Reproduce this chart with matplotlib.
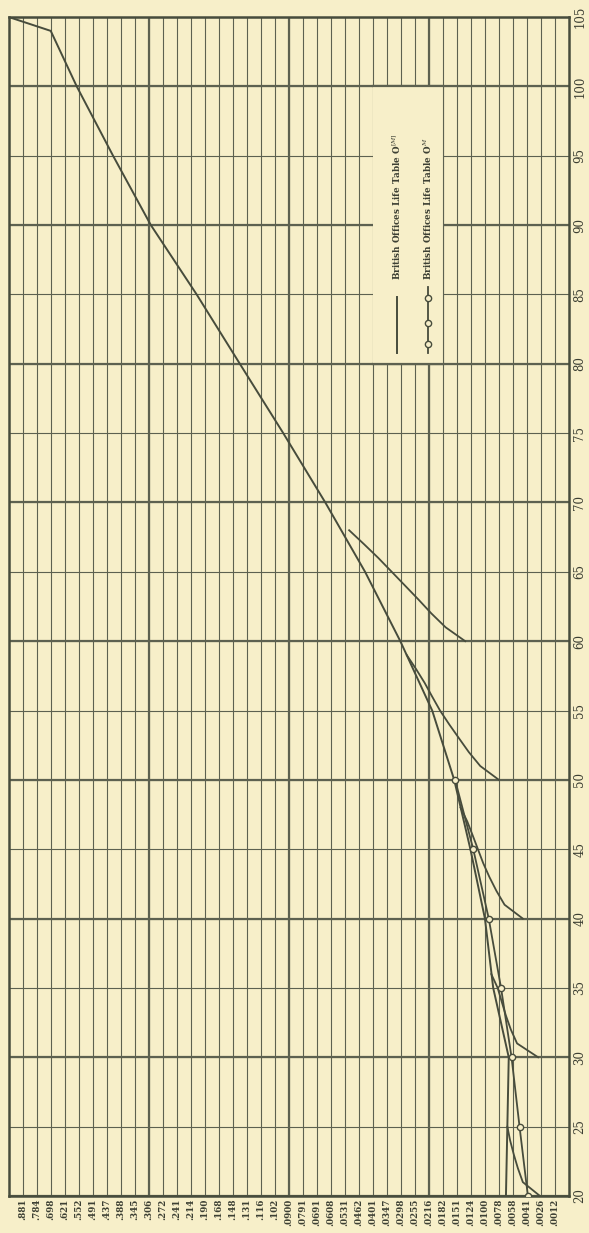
import numpy as np
import matplotlib.pyplot as plt

# mortality rate labels along the (rotated) rate axis, left to right
q_labels = [.881, .784, .698, .621, .552, .491, .437, .388, .345, .306,
            .272, .241, .214, .190, .168, .148, .131, .116, .102, .0900,
            .0791, .0691, .0608, .0531, .0462, .0401, .0347, .0298, .0255, .0216,
            .0182, .0151, .0124, .0100, .0078, .0058, .0041, .0026, .0012]
q_label_text = ['.881', '.784', '.698', '.621', '.552', '.491', '.437', '.388', '.345', '.306',
                '.272', '.241', '.214', '.190', '.168', '.148', '.131', '.116', '.102', '.0900',
                '.0791', '.0691', '.0608', '.0531', '.0462', '.0401', '.0347', '.0298', '.0255', '.0216',
                '.0182', '.0151', '.0124', '.0100', '.0078', '.0058', '.0041', '.0026', '.0012']
q_heavy = [.306, .0900, .0216]
ages = list(range(20, 106, 5))

# O[M] ultimate rates
ult_age = [20, 25, 30, 35, 40, 45, 50, 55, 60, 65, 70, 75, 80, 85, 90, 95, 100, 104, 105]
ult_q = [.0068, .0066, .0064, .0087, .0100, .0125, .0157, .0208, .0300, .0435, .0641,
         .0948, .1395, .204, .301, .415, .562, .698, 1.0]

# O^M aggregate rates
agg_age = [20, 25, 30, 35, 40, 45, 50]
agg_q = [.0040, .0050, .0060, .0075, .0094, .0120, .0155]

# O[M] select rates by entry age
sel20_age = [20, 21, 22, 23, 24, 25]
sel20_q = [.0027, .0046, .0052, .0057, .0062, .0066]
sel30_age = [30, 31, 32, 33, 34, 35, 36]
sel30_q = [.0029, .0053, .0061, .0068, .0074, .0080, .0090]
sel40_age = [40, 41, 42, 43, 44, 45, 46, 47, 48]
sel40_q = [.0046, .0070, .0082, .0093, .0103, .0112, .0121, .0131, .0144]
sel50_age = [50, 51, 52, 53, 54, 55, 56, 57, 58, 59]
sel50_q = [.0078, .0108, .0128, .0147, .0168, .0189, .0208, .0228, .0252, .0280]
sel60_age = [60, 61, 62, 63, 64, 65, 66, 67, 68]
sel60_q = [.0135, .0176, .0210, .0245, .0285, .0330, .0380, .0440, .0510]

# legend panel bounds (rate, age)
key_q = (.0401, .0182)
key_age = (80, 100)

# graduated rate scale: equal spacing between printed rates
q_asc = np.array([0.0] + q_labels[::-1] + [1.0])
pos_asc = np.arange(len(q_asc), dtype=float)


def forward(q):
    return np.interp(q, q_asc, pos_asc)


def inverse(p):
    return np.interp(p, pos_asc, q_asc)


paper = '#f7efc9'
ink = '#474c3c'
grid_ink = '#5d6150'
text_ink = '#3c3f33'

plt.rcParams['mathtext.fontset'] = 'dejavuserif'
fig = plt.figure(figsize=(5.89, 12.33), dpi=100, facecolor=paper)
ax = fig.add_axes([0.0148, 0.030, 0.9512, 0.9562])
ax.set_facecolor(paper)
ax.set_xscale('function', functions=(forward, inverse))
ax.set_xlim(1.0, 0.0)
ax.set_ylim(20, 105)

ax.set_xticks(q_labels)
ax.set_xticklabels(q_label_text, rotation=90, fontsize=6.3, family='DejaVu Serif',
                   fontweight='bold', color=text_ink)
ax.set_yticks(ages)
ax.set_yticklabels([str(a) for a in ages], rotation=90, va='center', fontsize=8.5,
                   family='DejaVu Serif', color=text_ink)
ax.yaxis.tick_right()
ax.tick_params(axis='x', length=0, pad=2)
ax.tick_params(axis='y', length=0, pad=3)

ax.grid(True, color=grid_ink, linewidth=0.8, zorder=1.5)
for q in q_heavy:
    ax.axvline(q, color=grid_ink, linewidth=1.6, zorder=1.6)
for a in ages:
    if a % 10 == 0:
        ax.axhline(a, color=grid_ink, linewidth=1.6, zorder=1.6)
for s in ax.spines.values():
    s.set_color(ink)
    s.set_linewidth(1.8)

# blank panel behind the key
ax.fill_betweenx(key_age, key_q[0], key_q[1], color=paper, lw=0, zorder=1.8)
ax.plot(key_q, [key_age[0]] * 2, color=grid_ink, lw=1.6, zorder=1.9)
ax.plot(key_q, [key_age[1]] * 2, color=grid_ink, lw=1.6, zorder=1.9)
ax.plot([key_q[1]] * 2, key_age, color=grid_ink, lw=0.8, zorder=1.9)

ax.plot(ult_q, ult_age, color=ink, lw=1.4, zorder=3)
for sq, sa in [(sel20_q, sel20_age), (sel30_q, sel30_age), (sel40_q, sel40_age),
               (sel50_q, sel50_age), (sel60_q, sel60_age)]:
    ax.plot(sq, sa, color=ink, lw=1.3, zorder=3)
ax.plot(agg_q, agg_age, color=ink, lw=1.3, marker='o', ms=4.5, mfc=paper, mec=ink,
        mew=1.0, zorder=4)

# rotated key, drawn by hand
ax.plot([0.6925, 0.6925], [0.715, 0.7625], transform=ax.transAxes, color=ink, lw=1.4, zorder=3)
ax.text(0.6925, 0.777, 'British Offices Life Table O$^{[M]}$', transform=ax.transAxes,
        rotation=90, ha='center', va='bottom', fontsize=6.3, family='DejaVu Serif',
        fontweight='bold', color=text_ink, zorder=3)
ax.plot([0.748, 0.748], [0.715, 0.771], transform=ax.transAxes, color=ink, lw=1.3, zorder=3)
ax.plot([0.748] * 3, [0.7226, 0.7405, 0.7617], transform=ax.transAxes, ls='none',
        marker='o', ms=4.5, mfc=paper, mec=ink, mew=1.0, zorder=4)
ax.text(0.748, 0.777, 'British Offices Life Table O$^{M}$', transform=ax.transAxes,
        rotation=90, ha='center', va='bottom', fontsize=6.3, family='DejaVu Serif',
        fontweight='bold', color=text_ink, zorder=3)

fig.savefig('out.png', dpi=100, facecolor=paper)
